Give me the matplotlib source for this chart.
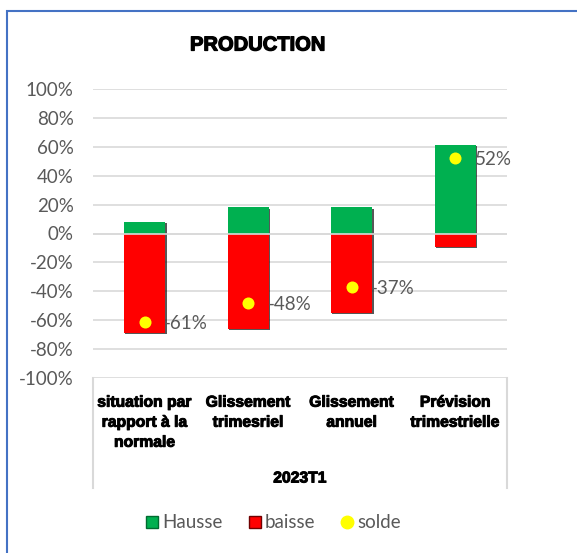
import matplotlib
matplotlib.use("Agg")
import matplotlib.pyplot as plt
import matplotlib.patheffects as pe
from matplotlib.lines import Line2D
from matplotlib.patches import Rectangle

categories = ["situation par\nrapport à la\nnormale", "Glissement\ntrimesriel",
              "Glissement\nannuel", "Prévision\ntrimestrielle"]
group_label = "2023T1"
hausse = [8, 18, 18, 61]
baisse = [-69, -66, -55, -9]
solde = [-61, -48, -37, 52]
yticks = [-100, -80, -60, -40, -20, 0, 20, 40, 60, 80, 100]

GREEN = "#00B050"
RED = "#FF0000"
YELLOW = "#FFFF00"
GRAY_TXT = "#595959"
GRID = "#D9D9D9"

W, H = 577, 553
fig = plt.figure(figsize=(W / 100, H / 100), dpi=100)
fig.patch.set_facecolor("white")

# chart border (left and top visible)
fig.patches.append(Rectangle((6.5 / W, -0.1), 1.2, 1 - 10.5 / H + 0.1,
                             transform=fig.transFigure, fill=False,
                             edgecolor="#4472C4", linewidth=1.5))

left, right = 93 / W, 507 / W
top, bottom = 1 - 89 / H, 1 - 378 / H
ax = fig.add_axes([left, bottom, right - left, top - bottom])
ax.set_xlim(-0.5, 3.5)
ax.set_ylim(-100, 100)
for s in ax.spines.values():
    s.set_visible(False)

ax.set_yticks(yticks)
ax.set_yticklabels([f"{v}%" for v in yticks], family="Lato", fontsize=13.5,
                   color=GRAY_TXT)
ax.tick_params(axis="y", length=0, pad=14)
ax.yaxis.grid(True, color=GRID, linewidth=1.2)
ax.set_axisbelow(True)

x = list(range(len(categories)))
shadow = [pe.SimplePatchShadow(offset=(1.0, -0.8), shadow_rgbFace="#101010", alpha=0.7),
          pe.Normal()]
bh = ax.bar(x, hausse, width=0.4, color=GREEN, zorder=2, label="Hausse")
bb = ax.bar(x, baisse, width=0.4, color=RED, zorder=2, label="baisse")
for p in list(bh) + list(bb):
    p.set_path_effects(shadow)
ax.axhline(0, color=GRID, linewidth=1.2, zorder=3)

ax.scatter(x, solde, s=75, color=YELLOW, zorder=4, label="solde", linewidths=0)
for xi, v in zip(x, solde):
    ax.annotate(f"{v}%", (xi, v), xytext=(14, -1), textcoords="offset points",
                ha="left", va="center", family="Lato", fontsize=13.5,
                color=GRAY_TXT, zorder=5)

heavy = [pe.withStroke(linewidth=0.7, foreground="black")]
ax.set_xticks(x)
ax.set_xticklabels(categories, family="Liberation Sans", fontweight="bold",
                   fontsize=11.3, linespacing=1.42, va="top")
for t in ax.get_xticklabels():
    t.set_path_effects(heavy)
ax.tick_params(axis="x", length=0, pad=12)

# category box side lines
for xb in (left, right):
    fig.add_artist(Line2D([xb, xb], [1 - 378 / H, 1 - 488 / H],
                          transform=fig.transFigure, color=GRID, linewidth=1.5))

fig.text(300 / W, 1 - 478 / H, group_label, ha="center", va="center",
         family="Liberation Sans", fontweight="bold", fontsize=11.3,
         path_effects=heavy)

fig.text(258 / W, 1 - 45 / H, "PRODUCTION", ha="center", va="center",
         family="Liberation Sans", fontweight="bold", fontsize=14.5,
         path_effects=[pe.withStroke(linewidth=0.9, foreground="black")])

handles = [Line2D([], [], marker="s", linestyle="none", markersize=8,
                  markerfacecolor=GREEN, markeredgecolor="#006b30"),
           Line2D([], [], marker="s", linestyle="none", markersize=8,
                  markerfacecolor=RED, markeredgecolor="#700000"),
           Line2D([], [], marker="o", linestyle="none", markersize=9,
                  markerfacecolor=YELLOW, markeredgecolor=YELLOW)]
leg = fig.legend(handles, ["Hausse", "baisse", "solde"], loc="center",
                 bbox_to_anchor=(272 / W, 1 - 523 / H), ncol=3, frameon=False,
                 prop={"family": "Lato", "size": 13.5}, handletextpad=0.05,
                 columnspacing=1.2, handlelength=1.0)
for t in leg.get_texts():
    t.set_color(GRAY_TXT)

fig.savefig("out.png", dpi=100)
